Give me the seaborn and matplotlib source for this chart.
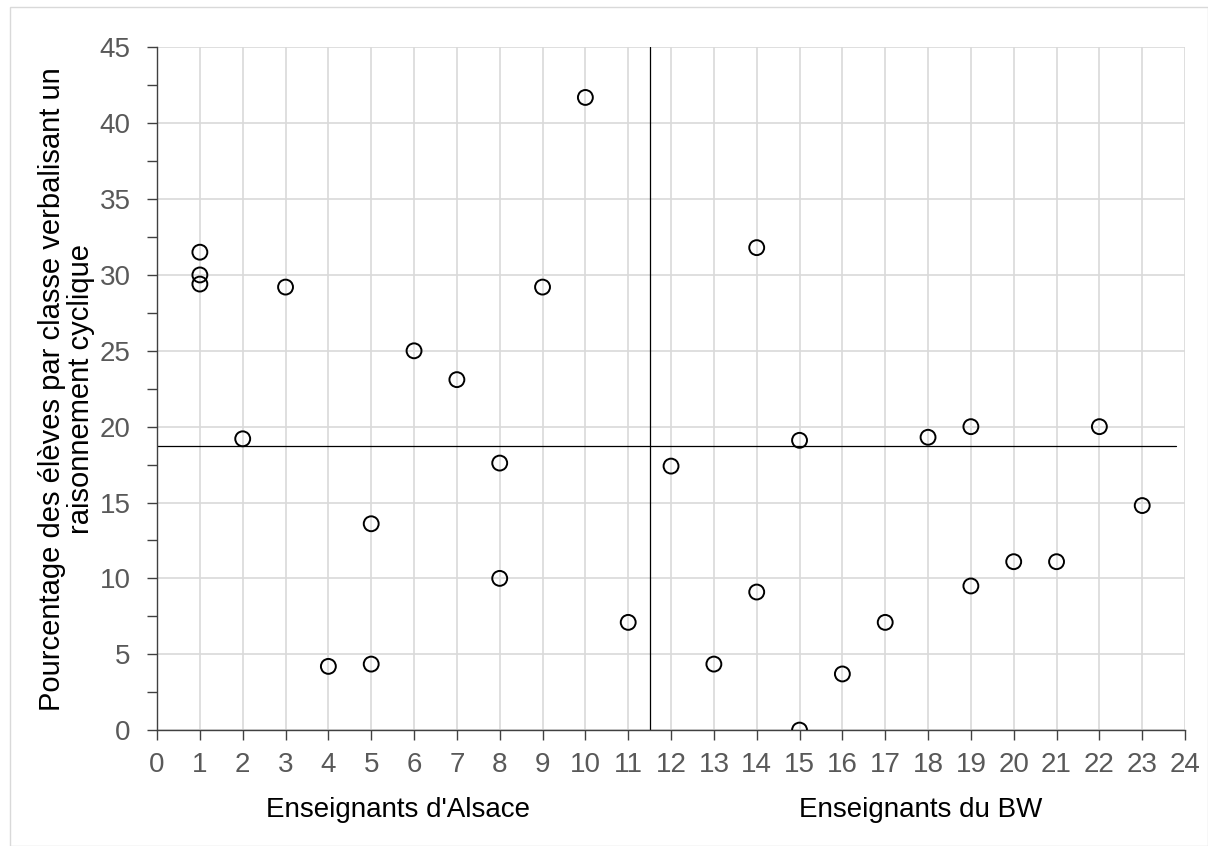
import matplotlib.pyplot as plt
import seaborn as sns
import pandas as pd
from matplotlib.ticker import MultipleLocator
from matplotlib.patches import Rectangle

# teacher index and share of pupils (%)
enseignant = [1, 1, 1, 2, 3, 4, 5, 5, 6, 7, 8, 8, 9, 10, 11,
              12, 13, 14, 14, 15, 15, 16, 17, 18, 19, 19, 20, 21, 22, 23]
pourcentage = [31.5, 30.0, 29.4, 19.2, 29.2, 4.2, 13.6, 4.35, 25.0, 23.1, 17.6, 10.0, 29.2, 41.7, 7.1,
               17.4, 4.35, 31.8, 9.1, 19.1, 0.0, 3.7, 7.1, 19.3, 20.0, 9.5, 11.1, 11.1, 20.0, 14.8]
separation = 11.5
reference = 18.7
groupes = ["Enseignants d'Alsace", "Enseignants du BW"]
centres_groupes = [5.63, 17.82]

df = pd.DataFrame({"x": enseignant, "y": pourcentage})

sns.set_theme(style="white")
plt.rcParams["font.family"] = ["Liberation Sans", "DejaVu Sans"]

fig = plt.figure(figsize=(12.08, 8.46), dpi=100)
fig.patches.append(Rectangle((10 / 1208, 0), 1 - 10 / 1208, 1 - 7 / 846,
                             transform=fig.transFigure, fill=False,
                             edgecolor="#d9d9d9", linewidth=1))
ax = fig.add_axes([0.13, 0.137, 0.851, 0.807])

sns.scatterplot(data=df, x="x", y="y", ax=ax, s=115, marker="o",
                facecolor="none", edgecolor="black", linewidth=1.4, zorder=3)

ax.axvline(separation, color="black", linewidth=0.9, zorder=2)
ax.plot([0, 23.8], [reference, reference], color="black", linewidth=0.9, zorder=2)

ax.set_xlim(0, 24)
ax.set_ylim(0, 45)
ax.xaxis.set_major_locator(MultipleLocator(1))
ax.yaxis.set_major_locator(MultipleLocator(5))
ax.yaxis.set_minor_locator(MultipleLocator(2.5))
ax.grid(True, which="major", color="#d9d9d9", linewidth=1.2, zorder=0)
ax.set_axisbelow(True)

for s in ["top", "right"]:
    ax.spines[s].set_visible(False)
for s in ["left", "bottom"]:
    ax.spines[s].set_color("#404040")
    ax.spines[s].set_linewidth(1)

ax.tick_params(axis="both", which="major", direction="out", length=7, width=1,
               color="#404040", labelsize=20, labelcolor="#595959",
               left=True, bottom=True)
ax.tick_params(axis="y", which="minor", direction="out", length=7, width=1,
               color="#404040", left=True)
ax.tick_params(axis="y", which="major", pad=12)
ax.tick_params(axis="x", which="major", pad=9)

ax.set_xlabel("")
ax.set_ylabel("Pourcentage des élèves par classe verbalisant un\nraisonnement cyclique",
              fontsize=21, color="black", labelpad=3, linespacing=1.05)

for nom, cx in zip(groupes, centres_groupes):
    ax.text(cx, -5.75, nom, ha="center", va="baseline", fontsize=20, color="black")

fig.savefig("out.png", dpi=100)
